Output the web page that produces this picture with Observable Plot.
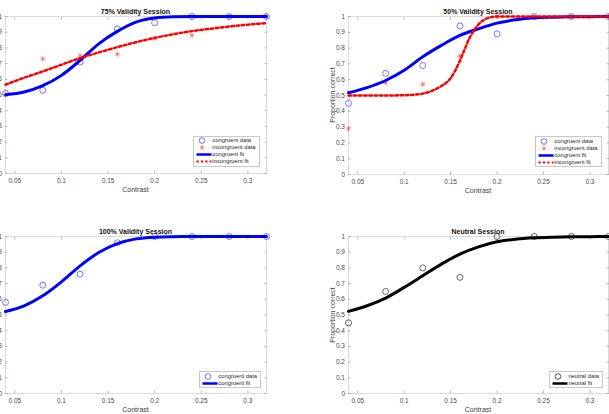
<!DOCTYPE html>
<html><head><meta charset="utf-8">
<script src="https://cdn.jsdelivr.net/npm/d3@7"></script>
<script src="https://cdn.jsdelivr.net/npm/@observablehq/plot@0.6"></script>
<style>
html,body{margin:0;padding:0;background:#fff;}
#page{position:relative;width:609px;height:414px;overflow:hidden;font-family:"Liberation Sans",Arial,Helvetica,sans-serif;background:#fff;}
.abs{position:absolute;}
.title{font-weight:bold;font-size:7px;color:#111;white-space:nowrap;transform:translate(-50%,-50%);}
.xlabel{font-size:7px;color:#404040;transform:translate(-50%,-50%);white-space:nowrap;}
.ylabel{font-size:7px;color:#404040;transform:translate(-50%,-50%) rotate(-90deg);white-space:nowrap;}
.legend{border:0.8px solid #c8c8c8;background:#fff;font-size:5.8px;color:#262626;padding:0.5px 3px 0.5px 0;}
.row{height:7px;line-height:7px;display:flex;align-items:center;white-space:nowrap;}
.row svg{flex:none;display:block;}
</style></head>
<body><div id="page"></div>
<script>
// ---- data ----
const contrast = [0.04, 0.08, 0.12, 0.16, 0.20, 0.24, 0.28, 0.32];
const fitX = [0.04, 0.06, 0.08, 0.10, 0.12, 0.14, 0.16, 0.18, 0.20, 0.22, 0.24, 0.26, 0.28, 0.30, 0.32];

// 75% validity
const v75Congruent   = [0.51, 0.53, 0.71, 0.92, 0.96, 1, 1, 1];
const v75Incongruent = [0.50, 0.73, 0.75, 0.76, 0.86, 0.88, 1, 1];
const v75CongruentFit   = [0.502, 0.519, 0.559, 0.625, 0.72, 0.826, 0.905, 0.964, 0.99, 0.998, 1, 1, 1, 1, 1];
const v75IncongruentFit = [0.566, 0.61, 0.65, 0.693, 0.735, 0.771, 0.805, 0.836, 0.864, 0.887, 0.907, 0.922, 0.936, 0.948, 0.958];

// 50% validity
const v50Congruent   = [0.45, 0.64, 0.69, 0.94, 0.89, 1, 1, 1];
const v50Incongruent = [0.29, 0.58, 0.57, 0.75, 1, 1, 1, 1];
const v50CongruentFit = [0.517, 0.55, 0.595, 0.66, 0.745, 0.817, 0.88, 0.922, 0.958, 0.979, 0.992, 0.996, 0.998, 0.999, 1];
const v50IncongruentFitX = [0.04, 0.06, 0.08, 0.10, 0.11, 0.12, 0.13, 0.14, 0.15, 0.16, 0.165, 0.17, 0.175, 0.18, 0.185, 0.19, 0.20, 0.22, 0.24, 0.28, 0.32];
const v50IncongruentFit  = [0.5, 0.5, 0.5, 0.502, 0.505, 0.512, 0.53, 0.56, 0.61, 0.72, 0.79, 0.86, 0.91, 0.95, 0.975, 0.99, 1, 1, 1, 1, 1];

// 100% validity
const v100Congruent    = [0.58, 0.69, 0.76, 0.96, 1, 1, 1, 1];
const v100CongruentFit = [0.522, 0.558, 0.622, 0.711, 0.813, 0.898, 0.955, 0.985, 0.996, 0.999, 1, 1, 1, 1, 1];

// neutral
const neutralData = [0.45, 0.65, 0.80, 0.74, 1, 1, 1, 1];
const neutralFit  = [0.523, 0.559, 0.608, 0.676, 0.75, 0.824, 0.888, 0.934, 0.966, 0.983, 0.992, 0.996, 0.998, 0.999, 1];

const xTicks = [0.05, 0.1, 0.15, 0.2, 0.25, 0.3];
const yTicks = [0, 0.1, 0.2, 0.3, 0.4, 0.5, 0.6, 0.7, 0.8, 0.9, 1];

// ---- styles ----
const BLUE = "#0000ff", RED = "#ff0000", CIRC_BLUE = "#4a4aff", STAR_RED = "#ff4848";
const circ = (vals, stroke) => Plot.dot(vals, {x: contrast, y: vals, r: 3, stroke, strokeWidth: 0.75, fill: "none"});
const star = (vals) => Plot.dot(vals, {x: contrast, y: vals, r: 2.4, symbol: "asterisk", stroke: STAR_RED, strokeWidth: 0.7});
const solid = (xs, vals, stroke) => Plot.line(vals, {x: xs, y: vals, stroke, strokeWidth: 3, curve: "monotone-x"});
const dotted = (xs, vals) => Plot.line(vals, {x: xs, y: vals, stroke: RED, strokeWidth: 2.5, strokeDasharray: "2.6,2.6", curve: "monotone-x"});

const legendItems = {
  cdata: {kind: "circle", color: CIRC_BLUE, text: "congruent data"},
  idata: {kind: "star", color: STAR_RED, text: "incongruent data"},
  cfit:  {kind: "line", color: BLUE, text: "congruent fit"},
  ifit:  {kind: "dots", color: RED, text: "incongruent fit"},
  ndata: {kind: "circle", color: "#333", text: "neutral data"},
  nfit:  {kind: "line", color: "#000", text: "neutral fit"}
};

const panels = [
  {px: 5, py: 16, pw: 261, ph: 157, title: "75% Validity Session", yLabel: null,
   marks: [circ(v75Congruent, CIRC_BLUE), star(v75Incongruent), solid(fitX, v75CongruentFit, BLUE), dotted(fitX, v75IncongruentFit)],
   legend: ["cdata", "idata", "cfit", "ifit"], lgRight: 6.5, lgBottom: 6.5},
  {px: 348, py: 16, pw: 260, ph: 158, title: "50% Validity Session", yLabel: "Proportion correct",
   marks: [circ(v50Congruent, CIRC_BLUE), star(v50Incongruent), solid(fitX, v50CongruentFit, BLUE), dotted(v50IncongruentFitX, v50IncongruentFit)],
   legend: ["cdata", "idata", "cfit", "ifit"], lgRight: 6.5, lgBottom: 7},
  {px: 5, py: 236, pw: 261, ph: 157, title: "100% Validity Session", yLabel: null,
   marks: [circ(v100Congruent, CIRC_BLUE), solid(fitX, v100CongruentFit, BLUE)],
   legend: ["cdata", "cfit"], lgRight: 5, lgBottom: 5},
  {px: 348, py: 236, pw: 260, ph: 157, title: "Neutral Session", yLabel: "Proportion correct",
   marks: [circ(neutralData, "#333"), solid(fitX, neutralFit, "#000")],
   legend: ["ndata", "nfit"], lgRight: 5, lgBottom: 5}
];

const page = document.getElementById("page");
const fmt = d3.format("~g");
const mL = 30, mR = 15, mT = 10, mB = 25;

function swatch(item) {
  const ns = "http://www.w3.org/2000/svg";
  const s = document.createElementNS(ns, "svg");
  s.setAttribute("width", 18); s.setAttribute("height", 7);
  let inner = "";
  if (item.kind === "circle") inner = `<circle cx="8" cy="3.5" r="2.8" fill="none" stroke="${item.color}" stroke-width="0.8"/>`;
  if (item.kind === "star") {
    const c = item.color;
    inner = `<g stroke="${c}" stroke-width="0.7"><path d="M8,1.3V5.7"/><path d="M6.1,2.4L9.9,4.6"/><path d="M6.1,4.6L9.9,2.4"/></g>`;
  }
  if (item.kind === "line") inner = `<path d="M2.5,3.5H17.5" stroke="${item.color}" stroke-width="2.5"/>`;
  if (item.kind === "dots") inner = `<path d="M2.5,3.5H17.5" stroke="${item.color}" stroke-width="2.2" stroke-dasharray="2.2,2.2"/>`;
  s.innerHTML = inner;
  return s;
}

for (const p of panels) {
  const svg = Plot.plot({
    width: mL + p.pw + mR, height: mT + p.ph + mB,
    marginLeft: mL, marginRight: mR, marginTop: mT, marginBottom: mB,
    x: {domain: [0.04, 0.32]},
    y: {domain: [0, 1]},
    style: {fontFamily: '"Liberation Sans", Arial, Helvetica, sans-serif', fontSize: "6.5px", color: "#4a4a4a", background: "transparent", overflow: "visible"},
    marks: [
      Plot.frame({stroke: "#d2d2d2", strokeWidth: 0.8}),
      Plot.axisX(xTicks, {anchor: "bottom", tickSize: 0, tickPadding: 4.5, tickFormat: fmt, label: null}),
      Plot.axisX(xTicks, {anchor: "bottom", tickSize: -2.5, tickFormat: () => "", label: null, stroke: "#9a9a9a", strokeWidth: 0.7}),
      Plot.axisX(xTicks, {anchor: "top", tickSize: -2.5, tickFormat: () => "", label: null, stroke: "#9a9a9a", strokeWidth: 0.7}),
      Plot.axisY(yTicks, {anchor: "left", tickSize: 0, tickPadding: 3.5, tickFormat: fmt, label: null}),
      Plot.axisY(yTicks, {anchor: "left", tickSize: -2.5, tickFormat: () => "", label: null, stroke: "#9a9a9a", strokeWidth: 0.7}),
      Plot.axisY(yTicks, {anchor: "right", tickSize: -2.5, tickFormat: () => "", label: null, stroke: "#9a9a9a", strokeWidth: 0.7}),
      ...p.marks
    ]
  });
  svg.style.position = "absolute";
  svg.style.left = (p.px - mL) + "px";
  svg.style.top = (p.py - mT) + "px";
  page.appendChild(svg);

  const t = document.createElement("div");
  t.className = "abs title"; t.textContent = p.title;
  t.style.left = (p.px + p.pw / 2) + "px"; t.style.top = (p.py - 5) + "px";
  page.appendChild(t);

  const xl = document.createElement("div");
  xl.className = "abs xlabel"; xl.textContent = "Contrast";
  xl.style.left = (p.px + p.pw / 2) + "px"; xl.style.top = (p.py + p.ph + 16) + "px";
  page.appendChild(xl);

  if (p.yLabel) {
    const yl = document.createElement("div");
    yl.className = "abs ylabel"; yl.textContent = p.yLabel;
    yl.style.left = (p.px - 16) + "px"; yl.style.top = (p.py + p.ph / 2) + "px";
    page.appendChild(yl);
  }

  const lg = document.createElement("div");
  lg.className = "abs legend";
  lg.style.right = (609 - (p.px + p.pw - p.lgRight)) + "px";
  lg.style.bottom = (414 - (p.py + p.ph - p.lgBottom)) + "px";
  for (const key of p.legend) {
    const item = legendItems[key];
    const row = document.createElement("div");
    row.className = "row";
    row.appendChild(swatch(item));
    const sp = document.createElement("span"); sp.textContent = item.text;
    row.appendChild(sp);
    lg.appendChild(row);
  }
  page.appendChild(lg);
}
</script>
</body></html>
